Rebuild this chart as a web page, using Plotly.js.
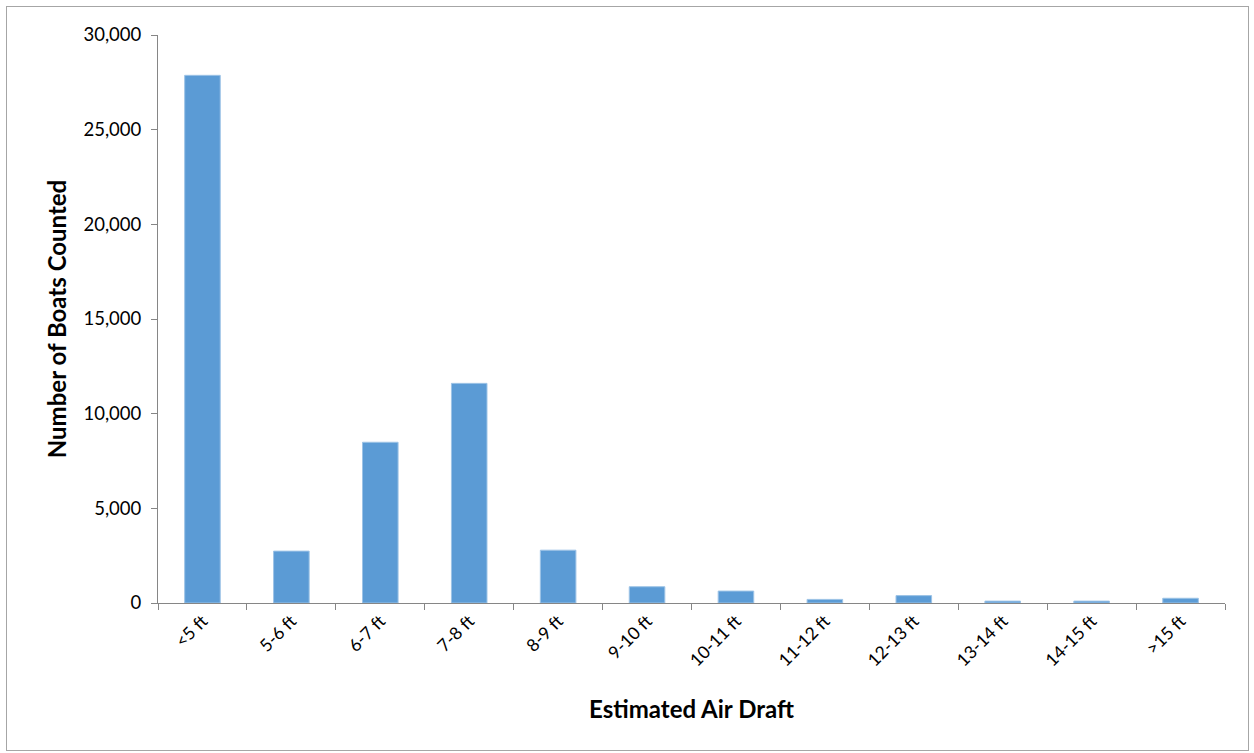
<!DOCTYPE html>
<html>
<head>
<meta charset="utf-8">
<script src="https://cdn.plot.ly/plotly-3.0.1.min.js"></script>
<style>
html,body{margin:0;padding:0;background:#fff;}
#wrap{position:relative;width:1254px;height:753px;}
#chart{position:absolute;left:0;top:0;width:1254px;height:753px;}
#frame{position:absolute;left:6px;top:6px;width:1243px;height:745px;border:1px solid #a6a6a6;box-sizing:border-box;pointer-events:none;}
</style>
</head>
<body>
<div id="wrap"><div id="chart"></div><div id="frame"></div></div>
<script>
const categories = ["<5 ft","5-6 ft","6-7 ft","7-8 ft","8-9 ft","9-10 ft","10-11 ft","11-12 ft","12-13 ft","13-14 ft","14-15 ft",">15 ft"];
const boatCounts = [27870, 2740, 8490, 11600, 2790, 860, 630, 190, 390, 100, 100, 250];
const yTickValues = [0, 5000, 10000, 15000, 20000, 25000, 30000];
const yTickLabels = ["0", "5,000", "10,000", "15,000", "20,000", "25,000", "30,000"];

const fontFam = "Lato, 'Open Sans', 'DejaVu Sans', sans-serif";

Plotly.newPlot('chart', [{
  type: 'bar',
  x: categories,
  y: boatCounts,
  marker: {color: '#5b9bd5', line: {color: '#9dc3e6', width: 1}},
  hoverinfo: 'x+y'
}], {
  width: 1254, height: 753,
  margin: {l: 158, r: 29, t: 35, b: 150, pad: 0},
  paper_bgcolor: '#ffffff',
  plot_bgcolor: '#ffffff',
  bargap: 0.6,
  showlegend: false,
  font: {family: fontFam, color: '#000000', size: 18},
  xaxis: {
    type: 'category',
    tickangle: -45,
    tickson: 'boundaries',
    ticks: 'outside',
    ticklen: 6,
    tickcolor: '#868686',
    showline: true,
    linecolor: '#868686',
    linewidth: 1,
    showgrid: false,
    automargin: false,
    tickfont: {family: fontFam, size: 17.5, color: '#000'},
    title: {text: 'Estimated Air Draft', font: {family: fontFam, size: 24, color: '#000', weight: 'bold'}, standoff: 31}
  },
  yaxis: {
    range: [0, 30000],
    tickvals: yTickValues,
    ticktext: yTickLabels,
    ticks: 'outside',
    ticklen: 6,
    tickcolor: '#868686',
    showline: true,
    linecolor: '#868686',
    linewidth: 1,
    showgrid: false,
    zeroline: false,
    automargin: false,
    ticklabelstandoff: 6,
    tickfont: {family: fontFam, size: 18.5, color: '#000'},
    title: {text: 'Number of Boats Counted', font: {family: fontFam, size: 24, color: '#000', weight: 'bold'}, standoff: 10}
  }
}, {displayModeBar: false, staticPlot: true});
</script>
</body>
</html>
